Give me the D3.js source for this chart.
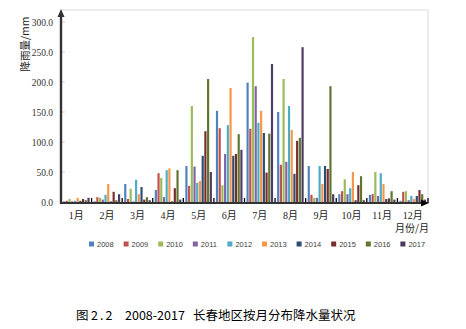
<!DOCTYPE html>
<html>
<head>
<meta charset="utf-8">
<script src="https://cdn.jsdelivr.net/npm/d3@7"></script>
<style>
  body { margin: 0; background: #fff; }
  svg { display: block; }
</style>
</head>
<body>
<svg id="chart" width="466" height="329"></svg>
<script>
// Monthly rainfall (mm) in Changchun, 2008-2017
const months = ["1月", "2月", "3月", "4月", "5月", "6月", "7月", "8月", "9月", "10月", "11月", "12月"];
const years = ["2008", "2009", "2010", "2011", "2012", "2013", "2014", "2015", "2016", "2017"];

const rain2008 = [1, 1, 30, 20, 60, 152, 199, 150, 60, 13, 12, 2];
const rain2009 = [2, 8, 5, 48, 27, 123, 122, 62, 12, 18, 13, 17];
const rain2010 = [5, 7, 22, 40, 160, 28, 275, 205, 7, 38, 50, 18];
const rain2011 = [1, 4, 1, 8, 59, 80, 193, 67, 7, 13, 10, 3];
const rain2012 = [2, 12, 37, 53, 32, 128, 132, 160, 60, 23, 48, 10];
const rain2013 = [7, 30, 13, 56, 35, 190, 152, 120, 30, 50, 30, 5];
const rain2014 = [2, 1, 25, 1, 77, 77, 115, 47, 60, 3, 5, 10];
const rain2015 = [5, 17, 4, 23, 118, 80, 49, 102, 55, 28, 6, 20];
const rain2016 = [3, 3, 8, 53, 205, 113, 114, 107, 193, 43, 18, 13];
const rain2017 = [7, 13, 3, 4, 50, 87, 230, 258, 13, 3, 4, 4];

const yTicks = [0, 50, 100, 150, 200, 250, 300];
const colors = ["#4F81BD", "#C0504D", "#9BBB59", "#8064A2", "#4BACC6",
                "#F79646", "#2C4D75", "#772C2A", "#5F7530", "#4D3B62"];

const seriesValues = [rain2008, rain2009, rain2010, rain2011, rain2012,
                      rain2013, rain2014, rain2015, rain2016, rain2017];
const series = years.map((yr, i) => ({ year: yr, values: seriesValues[i], color: colors[i] }));

const svg = d3.select("#chart");
const plotLeft = 61, plotRight = 428, plotTop = 10, plotBottom = 203;

const x = d3.scaleBand().domain(months).range([plotLeft, plotRight]).padding(0);
const xInner = d3.scaleBand().domain(years).range([2, x.bandwidth() - 2]).paddingInner(0.2);
const y = d3.scaleLinear().domain([0, 300]).range([202, 22]);

// plot frame
svg.append("rect")
  .attr("x", plotLeft).attr("y", plotTop)
  .attr("width", plotRight - plotLeft).attr("height", plotBottom - plotTop)
  .attr("fill", "none").attr("stroke", "#d9d9d9").attr("stroke-width", 1);

// bars
const groups = svg.append("g").selectAll("g")
  .data(series).join("g")
  .attr("fill", d => d.color);

groups.selectAll("rect")
  .data(d => d.values.map((v, i) => ({ month: months[i], year: d.year, value: v })))
  .join("rect")
  .attr("x", d => x(d.month) + xInner(d.year))
  .attr("width", xInner.bandwidth())
  .attr("y", d => y(d.value))
  .attr("height", d => y(0) - y(d.value));

// y axis labels
const yAxis = svg.append("g")
  .attr("transform", `translate(${plotLeft},0)`)
  .call(d3.axisLeft(y).tickValues(yTicks).tickFormat(d3.format(".1f")).tickSize(0).tickPadding(8));
yAxis.select(".domain").remove();
yAxis.selectAll("text")
  .attr("font-family", "Liberation Serif, serif")
  .attr("font-size", 9.5)
  .attr("fill", "#333");

// faint inner ticks on the y axis
svg.append("g").selectAll("line")
  .data(yTicks.slice(1)).join("line")
  .attr("x1", plotLeft + 1).attr("x2", plotLeft + 4)
  .attr("y1", d => y(d)).attr("y2", d => y(d))
  .attr("stroke", "#d0d0d0").attr("stroke-width", 1);

// x axis labels
const xAxis = svg.append("g")
  .attr("transform", `translate(0,${plotBottom})`)
  .call(d3.axisBottom(x).tickSize(0).tickPadding(9));
xAxis.select(".domain").remove();
xAxis.selectAll("text")
  .attr("font-family", "Liberation Serif, Noto Sans CJK SC, serif")
  .attr("font-size", 10)
  .attr("fill", "#222");

// category boundary marks
const bounds = months.map(m => x(m)).slice(1).concat([plotRight]);
svg.append("g").selectAll("line")
  .data(bounds).join("line")
  .attr("x1", d => d).attr("x2", d => d)
  .attr("y1", plotBottom - 5).attr("y2", plotBottom)
  .attr("stroke", "#000").attr("stroke-width", 1.3);

// axis lines with arrowheads
const axisColor = "#333";
svg.append("line")
  .attr("x1", plotLeft).attr("x2", plotLeft).attr("y1", plotBottom + 1).attr("y2", plotTop + 4)
  .attr("stroke", axisColor).attr("stroke-width", 2.4);
svg.append("path")
  .attr("d", `M${plotLeft},${plotTop - 1} L${plotLeft - 3.5},${plotTop + 7} L${plotLeft + 3.5},${plotTop + 7} Z`)
  .attr("fill", axisColor);
svg.append("line")
  .attr("x1", plotLeft - 1).attr("x2", plotRight - 4).attr("y1", plotBottom).attr("y2", plotBottom)
  .attr("stroke", axisColor).attr("stroke-width", 2);
svg.append("path")
  .attr("d", `M${plotRight + 1},${plotBottom} L${plotRight - 7},${plotBottom - 3.5} L${plotRight - 7},${plotBottom + 3.5} Z`)
  .attr("fill", "#000");

// axis titles
svg.append("text")
  .attr("transform", `translate(29,44) rotate(-90)`)
  .attr("text-anchor", "middle")
  .attr("font-family", "Noto Sans CJK SC, sans-serif")
  .attr("font-size", 10.5)
  .attr("fill", "#222")
  .text("降雨量/mm");

svg.append("text")
  .attr("x", 429).attr("y", 232)
  .attr("text-anchor", "end")
  .attr("font-family", "Noto Sans CJK SC, sans-serif")
  .attr("font-size", 10)
  .attr("fill", "#222")
  .text("月份/月");

// legend
const legend = svg.append("g").selectAll("g")
  .data(series).join("g")
  .attr("transform", (d, i) => `translate(${89 + i * 34.6},244)`);
legend.append("rect")
  .attr("x", 0).attr("y", -2.5).attr("width", 5).attr("height", 5)
  .attr("fill", d => d.color);
legend.append("text")
  .attr("x", 8).attr("y", 0).attr("dy", "0.35em")
  .attr("font-family", "Liberation Sans, Arial, sans-serif")
  .attr("font-size", 7.5)
  .attr("fill", "#404040")
  .text(d => d.year);

// caption
const caption = svg.append("g")
  .attr("font-family", "Noto Sans CJK SC, sans-serif")
  .attr("font-size", 12.5)
  .attr("fill", "#000");
caption.append("text").attr("x", 76).attr("y", 320).text("图");
caption.append("text").attr("x", 91).attr("y", 320).attr("letter-spacing", 2).text("2.2");
caption.append("text").attr("x", 125).attr("y", 320).text("2008-2017");
caption.append("text").attr("x", 193).attr("y", 320).text("长春地区按月分布降水量状况");
</script>
</body>
</html>
